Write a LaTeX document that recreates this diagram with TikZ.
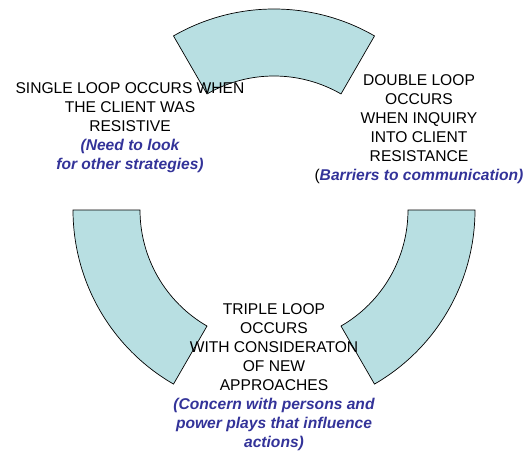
\documentclass[tikz,border=0pt]{standalone}
\usepackage{fontspec}
\setmainfont{Liberation Sans}
\usetikzlibrary{positioning}
\definecolor{segfill}{RGB}{184,223,226}
\definecolor{noteblue}{RGB}{51,51,153}
\newcommand{\loophint}[1]{\textcolor{noteblue}{\bfseries\itshape #1}}

\begin{document}
\begin{tikzpicture}[
  x=1pt, y=1pt,
  loopseg/.style={draw=black, fill=segfill, line width=0.7pt},
  looptext/.style={align=center, inner sep=0pt, anchor=base,
    font=\fontsize{15.6}{19}\selectfont}
]
  \useasboundingbox (0,0) rectangle (527,-453);
  \coordinate (hub) at (274,-210);

  % three pieces of the loop
  \foreach \a in {60,180,300} {
    \pgfmathsetmacro{\b}{\a+60}
    \draw[loopseg, shift={(hub)}] (\a:201) arc[start angle=\a, end angle=\b, radius=201]
      -- (\b:134) arc[start angle=\b, end angle=\a, radius=134] -- cycle;
  }

  \node[looptext] (single) at (130,-169)
    {SINGLE LOOP OCCURS WHEN\\THE CLIENT WAS\\RESISTIVE\\
     \loophint{(Need to look}\\\loophint{for other strategies)}};
  \node[looptext] (double) at (419,-180)
    {DOUBLE LOOP\\OCCURS\\WHEN INQUIRY\\INTO CLIENT\\RESISTANCE\\
     (\loophint{Barriers to communication)}};
  \node[looptext] (triple) at (274,-447)
    {TRIPLE LOOP\\OCCURS\\WITH CONSIDERATON\\OF NEW\\APPROACHES\\
     \loophint{(Concern with persons and}\\
     \loophint{power plays that influence}\\\loophint{actions)}};
\end{tikzpicture}
\end{document}
